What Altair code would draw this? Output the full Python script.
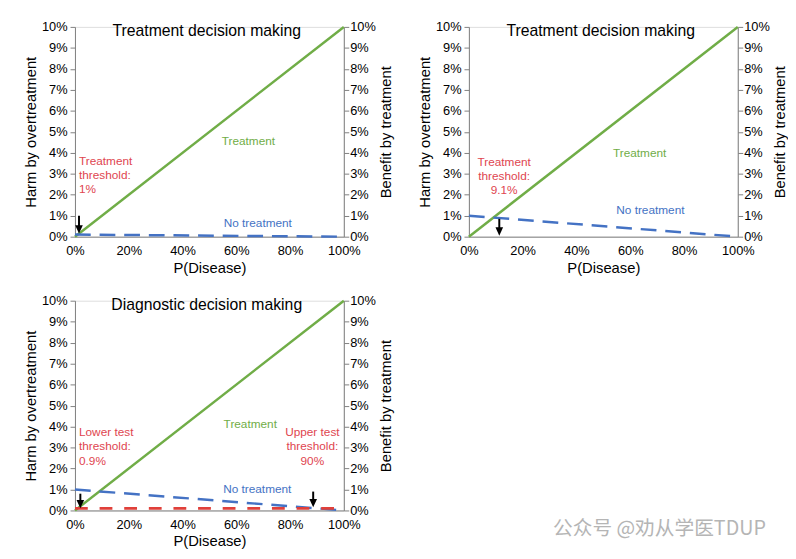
import altair as alt
import pandas as pd

# ---- data ----
p_disease = [0.0, 1.0]
treatment = [0.0, 0.10]
no_treat_1 = [0.001, 0.0]
no_treat_2 = [0.01, 0.0]
no_treat_3 = [0.01, 0.0]
test_line_3 = [0.001, 0.001]

y_ticks = [0, 0.01, 0.02, 0.03, 0.04, 0.05, 0.06, 0.07, 0.08, 0.09, 0.10]
x_ticks = [0, 0.2, 0.4, 0.6, 0.8, 1.0]

titles = ["Treatment decision making", "Treatment decision making", "Diagnostic decision making"]
title_pos = [(0.49, 0.098), (0.49, 0.098), (0.49, 0.098)]

treat_lbl_pos = [(0.645, 0.0455), (0.635, 0.040), (0.652, 0.041)]
notreat_lbl_pos = [(0.68, 0.0066), (0.675, 0.0127), (0.678, 0.0103)]

# threshold annotations: (text, x, y_top, align)
thresh_1 = [("Treatment\nthreshold:\n1%", 0.015, 0.0385, "left")]
thresh_2 = [("Treatment\nthreshold:\n9.1%", 0.131, 0.038, "center")]
thresh_3 = [("Lower test\nthreshold:\n0.9%", 0.015, 0.0397, "left"),
            ("Upper test\nthreshold:\n90%", 0.883, 0.0397, "center")]

# arrows: (x, y_top, y_tip)
arrows_1 = [(0.015, 0.0100, 0.0015)]
arrows_2 = [(0.113, 0.0085, 0.0005)]
arrows_3 = [(0.020, 0.0080, 0.0010), (0.886, 0.0090, 0.0015)]

watermark = "公众号 @劝从学医TDUP"

GREEN = "#70AD47"
BLUE = "#4472C4"
RED_TXT = "#E0454F"
RED_LINE = "#E0403A"
AX = "#808080"
FONT = "Liberation Sans"

W, H = 273, 213


def X(field="p"):
    return alt.X(f"{field}:Q",
                 scale=alt.Scale(domain=[0, 1], nice=False, zero=False),
                 axis=alt.Axis(format=".0%", values=x_ticks, title="P(Disease)",
                               ticks=False, labelPadding=8, titlePadding=3,
                               labelFlush=False,
                               labelFontSize=13, titleFontSize=15,
                               titleFontWeight="normal", domainColor=AX,
                               labelColor="black", titleColor="black",
                               grid=False, labelFont=FONT, titleFont=FONT))


def Y(field="v", orient="left"):
    title = "Harm by overtreatment" if orient == "left" else "Benefit by treatment"
    extra = {} if orient == "left" else {"titleBaseline": "top"}
    return alt.Y(f"{field}:Q",
                 scale=alt.Scale(domain=[0, 0.10], nice=False, zero=False),
                 axis=alt.Axis(format=".0%", values=y_ticks, title=title, orient=orient,
                               tickSize=5, tickColor=AX, domainColor=AX,
                               labelPadding=3 if orient == "left" else 1,
                               titlePadding=3 if orient == "left" else 3,
                               titleAngle=270, labelFlush=False,
                               labelFontSize=13, titleFontSize=15,
                               titleFontWeight="normal", labelColor="black",
                               titleColor="black", grid=False,
                               labelFont=FONT, titleFont=FONT, **extra))


def line_df(ys):
    return pd.DataFrame({"p": p_disease, "v": ys})


def panel(i, notreat, thresh, arrows, test=None):
    layers = []
    layers.append(alt.Chart(line_df(treatment)).mark_line(color=GREEN, strokeWidth=2.5)
                  .encode(x=X(), y=Y()))
    layers.append(alt.Chart(line_df(notreat)).mark_line(color=BLUE, strokeWidth=2.5,
                                                        strokeDash=[16, 9])
                  .encode(x=X(), y=Y()))
    if test is not None:
        layers.append(alt.Chart(line_df(test)).mark_line(color=RED_LINE, strokeWidth=3,
                                                         strokeDash=[13, 12])
                      .encode(x=X(), y=Y()))
    # arrows
    adf = pd.DataFrame({"p": [a[0] for a in arrows],
                        "top": [a[1] for a in arrows],
                        "tip": [a[2] for a in arrows]})
    layers.append(alt.Chart(adf).mark_rule(color="black", strokeWidth=2)
                  .encode(x=X(), y=Y("top"), y2="tip_shaft:Q")
                  .transform_calculate(tip_shaft="datum.tip + 0.003"))
    layers.append(alt.Chart(adf).mark_point(shape="M-0.5,-1.1L0.5,-1.1L0,0Z", filled=True,
                                            size=240, color="black", opacity=1,
                                            strokeWidth=0)
                  .encode(x=X(), y=Y("tip")))
    # title text
    tdf = pd.DataFrame({"p": [title_pos[i][0]], "v": [title_pos[i][1]], "t": [titles[i]]})
    layers.append(alt.Chart(tdf).mark_text(fontSize=16, font=FONT, color="black",
                                           baseline="middle", align="center")
                  .encode(x=X(), y=Y(), text="t:N"))
    # series labels
    gdf = pd.DataFrame({"p": [treat_lbl_pos[i][0]], "v": [treat_lbl_pos[i][1]], "t": ["Treatment"]})
    layers.append(alt.Chart(gdf).mark_text(fontSize=12, font=FONT, color=GREEN,
                                           baseline="middle", align="center")
                  .encode(x=X(), y=Y(), text="t:N"))
    bdf = pd.DataFrame({"p": [notreat_lbl_pos[i][0]], "v": [notreat_lbl_pos[i][1]], "t": ["No treatment"]})
    layers.append(alt.Chart(bdf).mark_text(fontSize=12, font=FONT, color=BLUE,
                                           baseline="middle", align="center")
                  .encode(x=X(), y=Y(), text="t:N"))
    for (txt, x, y, al) in thresh:
        rdf = pd.DataFrame({"p": [x], "v": [y], "t": [txt]})
        layers.append(alt.Chart(rdf).mark_text(fontSize=12, font=FONT, color=RED_TXT,
                                               baseline="top", align=al, lineBreak="\n",
                                               lineHeight=14.5)
                      .encode(x=X(), y=Y(), text="t:N"))
    content = alt.layer(*layers)
    right = alt.Chart(line_df(treatment)).mark_line(opacity=0).encode(x=X(), y=Y(orient="right"))
    return alt.layer(content, right).resolve_scale(y="independent").properties(width=W, height=H)


p1 = panel(0, no_treat_1, thresh_1, arrows_1)
p2 = panel(1, no_treat_2, thresh_2, arrows_2)
p3 = panel(2, no_treat_3, thresh_3, arrows_3, test=test_line_3)

row1 = alt.hconcat(p1, p2, spacing=23)
row2 = alt.hconcat(p3, spacing=23)
chart = alt.vconcat(row1, row2, spacing=18).properties(
    padding={"left": 15, "top": 8, "right": 0, "bottom": 0},
    title=alt.TitleParams(watermark, orient="bottom", anchor="end",
                          font="Noto Sans CJK SC", fontSize=20, fontWeight="normal",
                          color="#b5b5b5", offset=-31, dx=-22)
).configure_view(stroke=None).configure(background="white")

chart.save("out.html", embed_options={"renderer": "svg", "actions": False})
